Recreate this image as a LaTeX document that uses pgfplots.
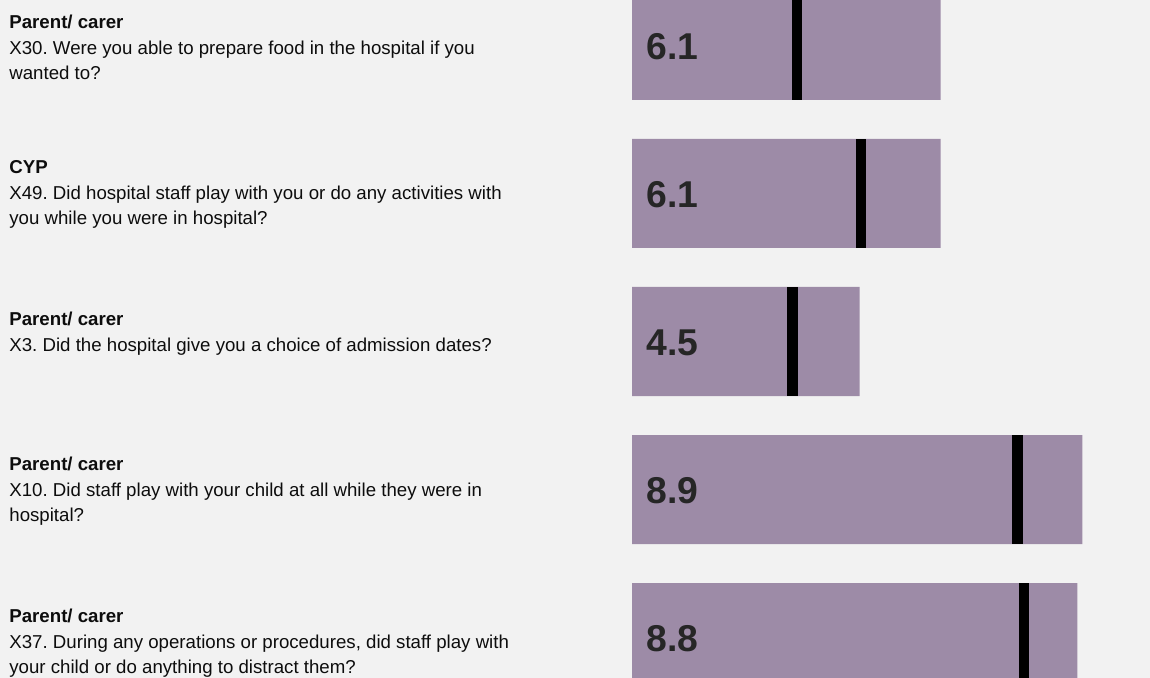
\documentclass[border=0pt]{standalone}
\usepackage{pgfplots}
\pgfplotsset{compat=1.18}
\usepackage{fontspec}
\setmainfont{Liberation Sans}
\definecolor{bg}{HTML}{F2F2F2}
\definecolor{barc}{RGB}{157,139,167}
\definecolor{valc}{HTML}{262626}
\definecolor{labc}{HTML}{0D0D0D}
\begin{document}
\frenchspacing
\begin{tikzpicture}
\fill[bg] (0,0) rectangle (575pt,339pt);
\path[use as bounding box] (0,0) rectangle (575pt,339pt);
\begin{axis}[at={(0,0)}, anchor=south west, scale only axis,
  width=575pt, height=339pt,
  xmin=-12.49, xmax=10.237, ymin=-0.3074, ymax=4.2736,
  y dir=reverse, hide axis, clip=true]
% bars: score (x) per question (y = 0..4 from top)
\addplot[xbar, bar width=0.7365, bar shift=0pt, fill=barc, draw=none]
  coordinates {(6.1,0) (6.1,1) (4.5,2) (8.9,3) (8.8,4)};
% black reference lines
\addplot[only marks, mark=none,
  error bars/.cd, x dir=none, y dir=both, y fixed=0.3682, error mark=none,
  error bar style={draw=black, line width=5.25pt}]
  coordinates {(3.26,0) (4.53,1) (3.17,2) (7.62,3) (7.75,4)};
\tikzset{val/.style={anchor=west, inner sep=0pt, text=valc,
  font=\bfseries\fontsize{18.67}{20}\selectfont}}
\node[val] at (axis cs:0.277,0.01) {6.1};
\node[val] at (axis cs:0.277,1.01) {6.1};
\node[val] at (axis cs:0.277,2.01) {4.5};
\node[val] at (axis cs:0.277,3.01) {8.9};
\node[val] at (axis cs:0.277,4.01) {8.8};
\end{axis}
\begin{scope}[shift={(0,339pt)}, x=0.5pt, y=-0.5pt]
\tikzset{hd/.style={anchor=base west, inner sep=0pt, text=labc,
  font=\bfseries\fontsize{9.33}{11}\selectfont},
  ln/.style={anchor=base west, inner sep=0pt, text=labc,
  font=\fontsize{9.33}{11}\selectfont}}
\node[hd] at (9,29) {Parent/ carer};
\node[ln] at (9,54.5) {X30. Were you able to prepare food in the hospital if you};
\node[ln] at (9,79.5) {wanted to?};
\node[hd] at (9,174) {CYP};
\node[ln] at (9,199.5) {X49. Did hospital staff play with you or do any activities with};
\node[ln] at (9,224.5) {you while you were in hospital?};
\node[hd] at (9,326) {Parent/ carer};
\node[ln] at (9,351.5) {X3. Did the hospital give you a choice of admission dates?};
\node[hd] at (9,471) {Parent/ carer};
\node[ln] at (9,496.5) {X10. Did staff play with your child at all while they were in};
\node[ln] at (9,521.5) {hospital?};
\node[hd] at (9,623) {Parent/ carer};
\node[ln] at (9,648.5) {X37. During any operations or procedures, did staff play with};
\node[ln] at (9,673.5) {your child or do anything to distract them?};
\end{scope}
\end{tikzpicture}
\end{document}
